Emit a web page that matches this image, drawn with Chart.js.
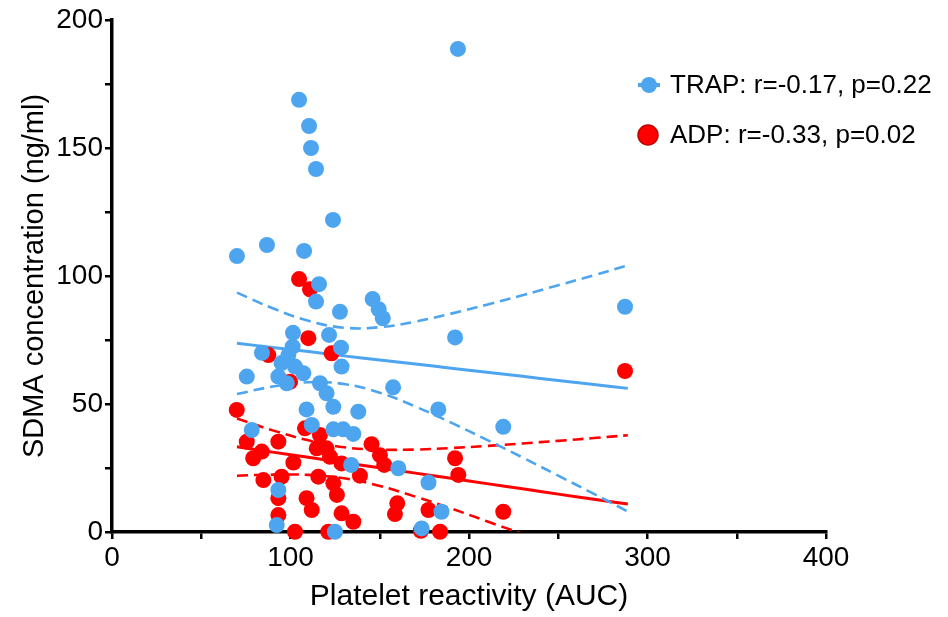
<!DOCTYPE html>
<html>
<head>
<meta charset="utf-8">
<script src="https://cdn.jsdelivr.net/npm/chart.js@4.4.1/dist/chart.umd.min.js"></script>
<style>
  html, body { margin: 0; padding: 0; background: #fff; }
  #wrap { width: 948px; height: 617px; position: relative; }
</style>
</head>
<body>
<div id="wrap"><canvas id="chart"></canvas></div>
<script>
// TRAP points (platelet reactivity AUC, SDMA ng/ml)
const trapAuc = [193.8, 104.8, 110.4, 111.5, 114.3, 123.8, 70, 86.8, 107.6, 116, 114.3, 127.7, 146, 149.4, 151.7, 287.4,
  192.2, 121.6, 101.4, 128.3, 84, 101.2, 98.8, 95, 102.5, 107.2, 93.2, 97.9, 75.5, 128.6, 116.5, 157.5, 120.2, 124, 109,
  138, 111.9, 78.3, 124, 129.5, 135.2, 134, 93.2, 92.3, 124.9, 182.8, 219.2, 160.4, 177.3, 184.6, 173.5];
const trapSdma = [188.7, 168.8, 158.6, 150, 141.8, 121.9, 107.8, 112.1, 109.8, 96.8, 90, 86, 91, 87, 83.5, 88,
  76, 77, 77.8, 72, 70, 72.4, 69.1, 66, 64.6, 62, 60.7, 58.1, 60.7, 64.6, 58.1, 56.5, 54.2, 48.9, 47.9,
  47, 41.8, 39.8, 40.1, 40.1, 38.3, 26.2, 16.4, 2.7, 0.1, 47.9, 41.1, 24.9, 19.3, 7.9, 1.4];

// ADP points
const adpAuc = [287.4, 104.8, 110.9, 110, 123, 87.6, 99.7, 69.9, 75.5, 93.2, 79.1, 83.9, 101.6, 108.1, 116.5, 114.7,
  120.2, 122.1, 128.6, 145.4, 150.1, 152.5, 138.9, 115.6, 95, 84.8, 124, 126, 93.2, 109, 111.9, 128.6, 135.2, 93.2,
  102.5, 121.2, 158.5, 159.8, 192.2, 194, 177.3, 183.8, 173, 219.2];
const adpSdma = [62.9, 98.8, 94.8, 75.7, 69.8, 69.1, 58.7, 47.7, 35.3, 35.3, 28.8, 31.4, 27.1, 40.5, 37.9, 32.7,
  32.7, 29.4, 26.8, 34.3, 30, 26.2, 22, 21.6, 21.6, 20.3, 19, 14.5, 13.2, 13.2, 8.6, 7.3, 4, 6.6,
  0.1, 0.1, 7, 11.2, 28.8, 22.3, 8.6, 0.1, 0.5, 7.9];

// regression lines and 95% bands, read at these AUC values
const fitX = [70, 90, 110, 130, 150, 170, 190, 210, 230, 250, 270, 289];
const trapFit = [73.7, 72.1, 70.5, 68.8, 67.2, 65.6, 64.0, 62.4, 60.8, 59.2, 57.6, 56.1];
const trapUpper = [93.5, 87.4, 82.5, 79.8, 80.0, 82.2, 85.3, 88.8, 92.5, 96.4, 100.3, 104.2];
const trapLower = [53.9, 56.8, 58.5, 57.8, 54.4, 49.0, 42.7, 36.0, 29.1, 22.0, 14.9, 8.0];
const adpFit = [33.3, 31.2, 29.2, 27.1, 25.1, 23.0, 21.0, 18.9, 16.9, 14.8, 12.8, 10.9];
const adpUpper = [44.3, 39.7, 35.8, 33.1, 32.2, 32.2, 32.8, 33.6, 34.6, 35.6, 36.7, 37.8];
const adpLower = [22.0, 22.4, 22.3, 21.0, 18.0, 13.8, 9.2, 4.2, -0.8, -6.0, -11.1, -16.0];

const legendLabels = ["TRAP: r=-0.17, p=0.22", "ADP: r=-0.33, p=0.02"];

const BLUE = "#4ea5ef";
const RED = "#ff0000";
const FONT = "'Liberation Sans', Arial, sans-serif";

function toPoints(xs, ys) {
  return xs.map((x, i) => ({ x, y: ys[i] }));
}

function lineSet(ys, color, dashed, order) {
  return {
    data: toPoints(fitX, ys),
    showLine: true,
    borderColor: color,
    borderWidth: dashed ? 2.6 : 3,
    borderDash: dashed ? [11, 6] : [],
    pointRadius: 0,
    tension: 0.4,
    fill: false,
    order,
  };
}

const legendPlugin = {
  id: "cornerLegend",
  afterDraw(chart) {
    const { ctx } = chart;
    ctx.save();
    // TRAP marker: dot with short line through it
    ctx.strokeStyle = BLUE;
    ctx.lineWidth = 4;
    ctx.beginPath();
    ctx.moveTo(638, 85);
    ctx.lineTo(660, 85);
    ctx.stroke();
    ctx.fillStyle = BLUE;
    ctx.beginPath();
    ctx.arc(649, 85, 8, 0, Math.PI * 2);
    ctx.fill();
    // ADP marker
    ctx.fillStyle = RED;
    ctx.strokeStyle = "#c00000";
    ctx.lineWidth = 1.5;
    ctx.beginPath();
    ctx.arc(648, 135, 10, 0, Math.PI * 2);
    ctx.fill();
    ctx.stroke();

    ctx.fillStyle = "#000";
    ctx.font = `26px ${FONT}`;
    ctx.textBaseline = "middle";
    ctx.textAlign = "left";
    ctx.fillText(legendLabels[0], 670, 86);
    ctx.fillText(legendLabels[1], 670, 136);
    ctx.restore();
  },
};

new Chart(document.getElementById("chart"), {
  type: "scatter",
  data: {
    datasets: [
      lineSet(adpLower, RED, true, 4),
      lineSet(adpUpper, RED, true, 4),
      lineSet(adpFit, RED, false, 4),
      lineSet(trapLower, BLUE, true, 3),
      lineSet(trapUpper, BLUE, true, 3),
      lineSet(trapFit, BLUE, false, 3),
      {
        label: "ADP",
        data: toPoints(adpAuc, adpSdma),
        pointRadius: 8,
        pointBorderWidth: 0,
        backgroundColor: RED,
        borderColor: RED,
        clip: false,
        order: 2,
      },
      {
        label: "TRAP",
        data: toPoints(trapAuc, trapSdma),
        pointRadius: 8,
        pointBorderWidth: 0,
        backgroundColor: BLUE,
        borderColor: BLUE,
        clip: false,
        order: 1,
      },
    ],
  },
  options: {
    responsive: true,
    maintainAspectRatio: false,
    animation: false,
    events: [],
    layout: { padding: { top: 20, right: 122, left: 0, bottom: 0 } },
    plugins: {
      legend: { display: false },
      tooltip: { enabled: false },
    },
    scales: {
      x: {
        type: "linear",
        min: 0,
        max: 400,
        afterFit(scale) { scale.height = 85; },
        ticks: {
          stepSize: 50,
          color: "#000",
          padding: 2,
          font: { family: FONT, size: 28 },
          callback: (v) => (v % 100 === 0 ? v : ""),
        },
        grid: { drawOnChartArea: false, color: "#000", lineWidth: 2.5, tickLength: 7 },
        border: { color: "#000", width: 3.5 },
        title: {
          display: true,
          text: "Platelet reactivity (AUC)",
          color: "#000",
          font: { family: FONT, size: 30, lineHeight: 1 },
          padding: { top: 0, bottom: 5 },
        },
      },
      y: {
        type: "linear",
        min: 0,
        max: 200,
        afterFit(scale) { scale.width = 112; },
        ticks: {
          stepSize: 25,
          color: "#000",
          padding: 2,
          font: { family: FONT, size: 28 },
          callback: (v) => (v % 50 === 0 ? v : ""),
        },
        grid: { drawOnChartArea: false, color: "#000", lineWidth: 2.5, tickLength: 7 },
        border: { color: "#000", width: 3.5 },
        title: {
          display: true,
          text: "SDMA concentration (ng/ml)",
          color: "#000",
          font: { family: FONT, size: 29, lineHeight: 1.2 },
          padding: { top: 18, bottom: 0 },
        },
      },
    },
  },
  plugins: [legendPlugin],
});
</script>
</body>
</html>
